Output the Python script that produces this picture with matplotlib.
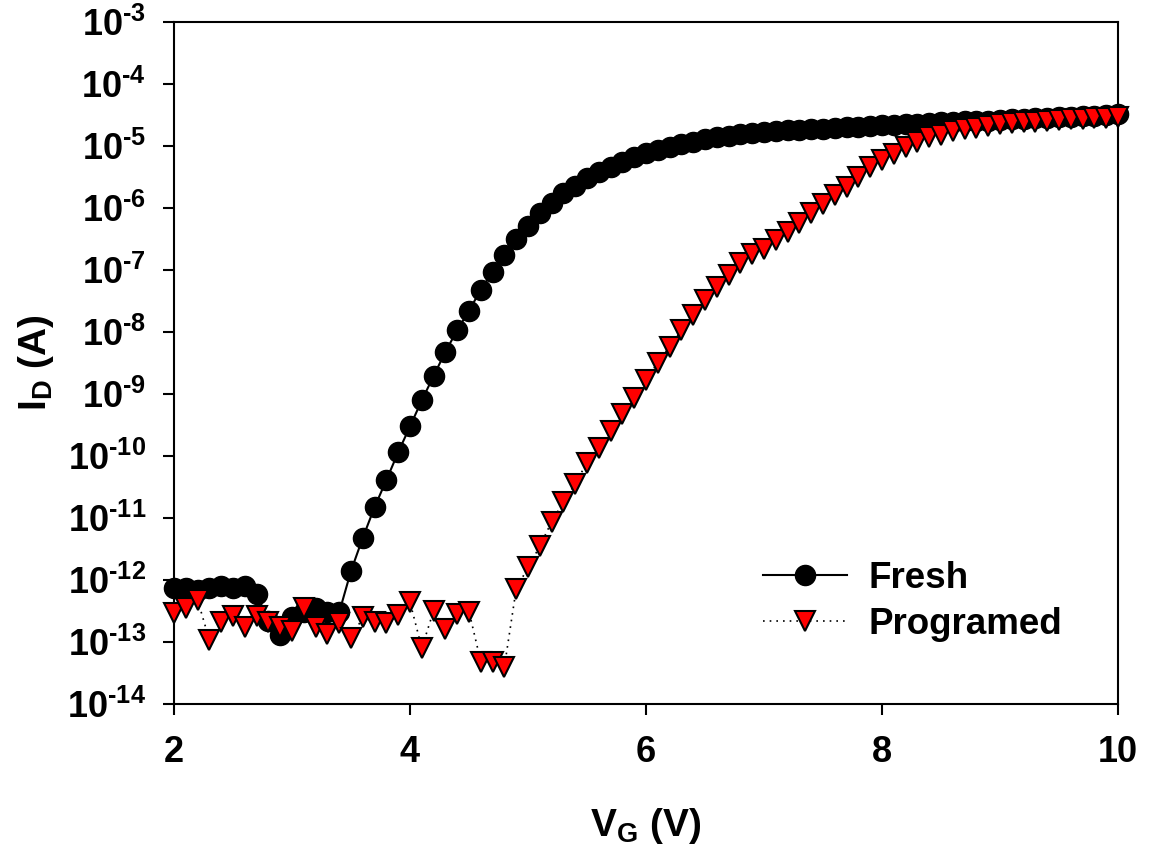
import numpy as np
import matplotlib
matplotlib.use("Agg")
import matplotlib.pyplot as plt
from matplotlib.ticker import FixedLocator, FuncFormatter, NullLocator

plt.rcParams['font.family'] = ['Liberation Sans', 'DejaVu Sans']
plt.rcParams['font.weight'] = 'bold'
plt.rcParams['mathtext.fontset'] = 'custom'
plt.rcParams['mathtext.rm'] = 'Liberation Sans:bold'
plt.rcParams['mathtext.bf'] = 'Liberation Sans:bold'
plt.rcParams['mathtext.it'] = 'Liberation Sans:bold'

# gate voltage sweep (V), 0.1 V step
vg = [round(2.0 + 0.1 * i, 1) for i in range(81)]

# drain current, fresh device (A)
id_fresh = [
    7.4e-13, 7.5e-13, 7.0e-13, 7.5e-13, 8.0e-13, 7.5e-13, 8.0e-13, 6.0e-13, 2.2e-13, 1.3e-13,
    2.5e-13, 3.0e-13, 3.6e-13, 3.0e-13, 3.0e-13, 1.4e-12, 4.8e-12, 1.5e-11, 4.1e-11, 1.15e-10,
    3.0e-10, 7.9e-10, 1.95e-9, 4.8e-9, 1.07e-8, 2.2e-8, 4.8e-8, 9.3e-8, 1.74e-7, 3.2e-7,
    5.1e-7, 8.3e-7, 1.2e-6, 1.74e-6, 2.3e-6, 3.0e-6, 3.8e-6, 4.6e-6, 5.5e-6, 6.6e-6,
    7.8e-6, 8.7e-6, 9.5e-6, 1.07e-5, 1.15e-5, 1.29e-5, 1.38e-5, 1.45e-5, 1.55e-5, 1.62e-5,
    1.70e-5, 1.74e-5, 1.78e-5, 1.82e-5, 1.86e-5, 1.91e-5, 1.95e-5, 2.0e-5, 2.04e-5, 2.09e-5,
    2.14e-5, 2.19e-5, 2.24e-5, 2.29e-5, 2.34e-5, 2.40e-5, 2.45e-5, 2.51e-5, 2.53e-5, 2.57e-5,
    2.63e-5, 2.69e-5, 2.75e-5, 2.80e-5, 2.85e-5, 2.90e-5, 2.97e-5, 3.03e-5, 3.10e-5, 3.18e-5,
    3.25e-5,
]

# drain current, programmed device (A)
id_prog = [
    2.9e-13, 3.5e-13, 4.8e-13, 1.07e-13, 2.1e-13, 2.6e-13, 1.75e-13, 2.6e-13, 2.1e-13, 1.75e-13,
    1.5e-13, 3.5e-13, 1.75e-13, 1.35e-13, 2.0e-13, 1.15e-13, 2.5e-13, 2.1e-13, 2.0e-13, 2.7e-13,
    4.4e-13, 8.0e-14, 3.2e-13, 1.6e-13, 2.8e-13, 3.1e-13, 4.8e-14, 4.8e-14, 4.0e-14, 7.2e-13,
    1.6e-12, 3.5e-12, 8.7e-12, 1.8e-11, 3.6e-11, 7.8e-11, 1.35e-10, 2.5e-10, 4.8e-10, 8.7e-10,
    1.7e-9, 3.2e-9, 5.8e-9, 1.07e-8, 1.86e-8, 3.3e-8, 5.4e-8, 8.3e-8, 1.29e-7, 1.8e-7,
    2.2e-7, 3.0e-7, 4.1e-7, 5.8e-7, 8.3e-7, 1.15e-6, 1.62e-6, 2.2e-6, 3.2e-6, 4.5e-6,
    5.9e-6, 7.4e-6, 9.5e-6, 1.15e-5, 1.41e-5, 1.51e-5, 1.74e-5, 1.86e-5, 1.95e-5, 2.09e-5,
    2.24e-5, 2.34e-5, 2.40e-5, 2.45e-5, 2.51e-5, 2.63e-5, 2.69e-5, 2.75e-5, 2.82e-5, 2.85e-5,
    2.95e-5,
]

x_ticks = [2, 4, 6, 8, 10]
y_exponents = list(range(-14, -2))

fig = plt.figure(figsize=(11.5, 8.55), dpi=100)
ax = fig.add_axes([0.1513, 0.1766, 0.8209, 0.7977])

ax.plot(vg, id_fresh, '-', color='black', lw=1.5, marker='o', ms=14.5,
        mfc='black', mec='black', label='Fresh', zorder=3, clip_on=False)
ax.plot(vg, id_prog, linestyle=(0, (1, 3)), color='black', lw=1.2, marker='v', ms=14,
        mfc='red', mec='black', mew=1.5, label='Programed', zorder=4, clip_on=False)

ax.set_yscale('log')
ax.set_xlim(2, 10)
ax.set_ylim(1e-14, 1e-3)

ax.xaxis.set_major_locator(FixedLocator(x_ticks))
ax.yaxis.set_major_locator(FixedLocator([10.0 ** e for e in y_exponents]))
ax.yaxis.set_minor_locator(NullLocator())
ax.yaxis.set_major_formatter(
    FuncFormatter(lambda v, p: r'$\mathbf{10^{\text{-}%d}}$' % abs(round(np.log10(v)))))
ax.xaxis.set_major_formatter(FuncFormatter(lambda v, p: '%d' % v))

ax.tick_params(axis='both', direction='out', length=8, width=1.5, labelsize=26)
ax.tick_params(axis='x', pad=14)
ax.tick_params(axis='y', pad=12)
for s in ax.spines.values():
    s.set_linewidth(1.5)

ax.set_xlabel(r'$\mathbf{V_G}$ (V)', fontsize=28, fontweight='bold', labelpad=26)
ax.set_ylabel(r'$\mathbf{I_D}$ (A)', fontsize=28, fontweight='bold', labelpad=8)

ax.legend(loc='upper left', bbox_to_anchor=(0.589, 0.258), frameon=False, fontsize=26.5,
          handlelength=2.27, handletextpad=0.6, labelspacing=0.3)

fig.savefig('out.png', dpi=100)
